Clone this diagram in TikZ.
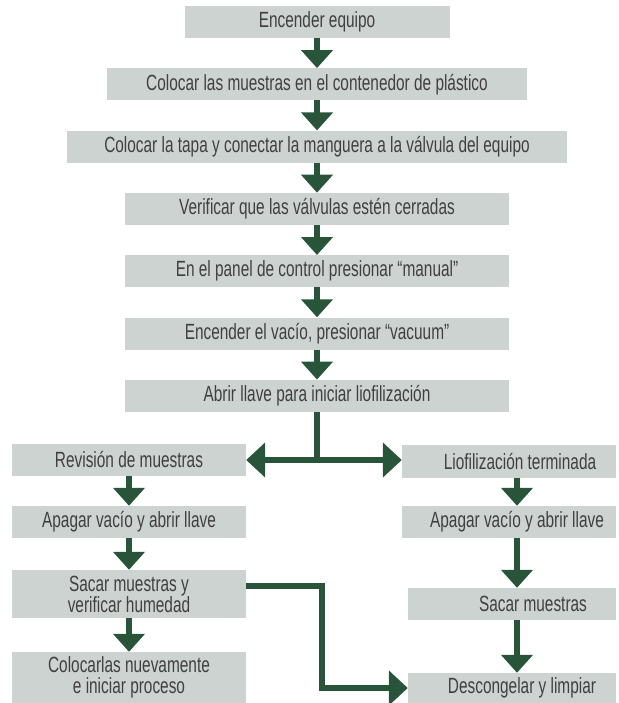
\documentclass[tikz,border=0pt]{standalone}
\usepackage{fontspec}
\setmainfont{Liberation Sans}[FakeStretch=0.7]
\usetikzlibrary{arrows.meta,positioning}
\definecolor{cajagris}{HTML}{CDD3D0}
\definecolor{verdeflecha}{HTML}{28543A}
\definecolor{textogris}{HTML}{404040}

\begin{document}
\begin{tikzpicture}[x=1pt,y=1pt,node distance=62.3pt,
    paso/.style={fill=cajagris,text=textogris,minimum height=32pt,inner sep=0pt,
      align=center,font=\fontsize{22}{21}\selectfont},
    flecha/.style={draw=verdeflecha,line width=6pt,-{Triangle[width=31pt,length=18pt]}},
    flechah/.style={flecha,-{Triangle[width=34pt,length=19pt]}},
    linea/.style={draw=verdeflecha,line width=6pt}]
  \useasboundingbox (0,0) rectangle (618,-703);
  % columna central
  \node [paso,minimum width=265pt] (encender) at (317,-22) {Encender equipo};
  \node [paso,minimum width=420pt,below of=encender] (muestras) {Colocar las muestras en el contenedor de plástico};
  \node [paso,minimum width=500pt,below of=muestras] (tapa) {Colocar la tapa y conectar la manguera a la válvula del equipo};
  \node [paso,minimum width=384pt,below of=tapa] (valvulas) {Verificar que las válvulas estén cerradas};
  \node [paso,minimum width=384pt,below of=valvulas] (panel) {En el panel de control presionar “manual”};
  \node [paso,minimum width=384pt,below of=panel] (vacio) {Encender el vacío, presionar “vacuum”};
  \node [paso,minimum width=384pt,below of=vacio] (abrir) {Abrir llave para iniciar liofilización};
  % columna izquierda
  \node [paso,minimum width=234pt] (revision) at (129,-460) {Revisión de muestras};
  \node [paso,minimum width=234pt] (apagarI) at (129,-522) {Apagar vacío y abrir llave};
  \node [paso,minimum width=234pt,minimum height=48pt] (sacarI) at (129,-594) {Sacar muestras y\\verificar humedad};
  \node [paso,minimum width=234pt,minimum height=51pt] (colocarlas) at (129,-677.5) {Colocarlas nuevamente\\e iniciar proceso};
  % columna derecha
  \node [paso,minimum width=214pt,minimum height=33pt] (terminada) at (509,-461.5) {\hspace*{22pt}Liofilización terminada};
  \node [paso,minimum width=214pt] (apagarD) at (509,-522) {\hspace*{16pt}Apagar vacío y abrir llave};
  \node [paso,minimum width=208pt] (sacarD) at (512,-604) {\hspace*{42pt}Sacar muestras};
  \node [paso,minimum width=208pt,minimum height=30pt] (descongelar) at (512,-688) {\hspace*{20pt}Descongelar y limpiar};
  \coordinate (ejeD) at (517,0);
  \coordinate (codo) at (322,0);
  \coordinate (rama) at (abrir.south |- revision.east);
  \coordinate (codoB) at (codo |- descongelar.west);

  \draw [flecha] (encender) -- (muestras);
  \draw [flecha] (muestras) -- (tapa);
  \draw [flecha] (tapa) -- (valvulas);
  \draw [flecha] (valvulas) -- (panel);
  \draw [flecha] (panel) -- (vacio);
  \draw [flecha] (vacio) -- (abrir);
  \draw [linea] (abrir.south) -- ([yshift=-3pt]rama);
  \draw [flechah] (rama) -- (revision.east);
  \draw [flechah] (rama) -- (terminada.west |- rama);
  \draw [flecha] (revision) -- (apagarI);
  \draw [flecha] (apagarI) -- (sacarI);
  \draw [flecha] (sacarI) -- (colocarlas);
  \draw [flecha] (terminada.south -| ejeD) -- (apagarD.north -| ejeD);
  \draw [flecha] (apagarD.south -| ejeD) -- (sacarD.north -| ejeD);
  \draw [flecha] (sacarD.south -| ejeD) -- (descongelar.north -| ejeD);
  \draw [linea,line width=5.5pt] ([yshift=8pt]sacarI.east) -| ([yshift=-2.75pt]codoB);
  \draw [flechah,line width=5.5pt] ([xshift=-2.75pt]codoB) -- (descongelar.west);
\end{tikzpicture}
\end{document}
